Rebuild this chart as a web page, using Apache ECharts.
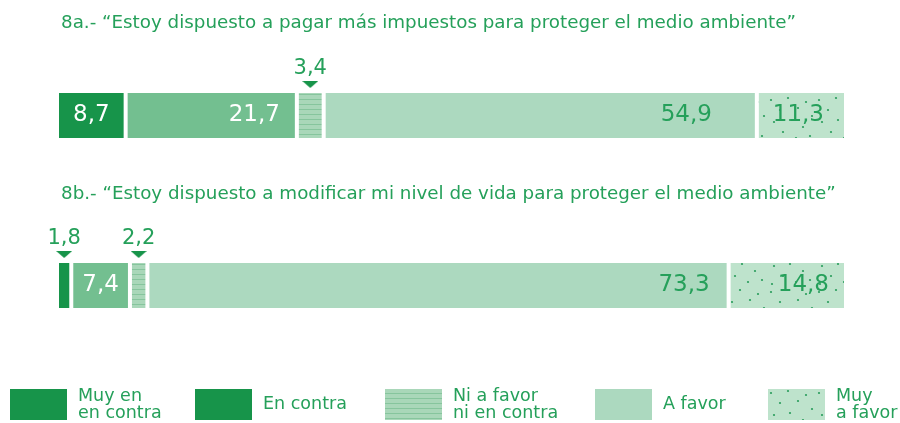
<!DOCTYPE html>
<html>
<head>
<meta charset="utf-8" />
<script src="https://cdn.jsdelivr.net/npm/echarts@6/dist/echarts.min.js"></script>
<style>
  html, body { margin: 0; padding: 0; background: #fff; }
  #chart { width: 900px; height: 423px; }
</style>
</head>
<body>
<div id="chart"></div>
<script>
const seriesNames = ['Muy en en contra', 'En contra', 'Ni a favor ni en contra', 'A favor', 'Muy a favor'];
const legendLabels = ['Muy en\nen contra', 'En contra', 'Ni a favor\nni en contra', 'A favor', 'Muy\na favor'];
const rowTitles = [
  '8a.- \u201cEstoy dispuesto a pagar más impuestos para proteger el medio ambiente\u201d',
  '8b.- \u201cEstoy dispuesto a modificar mi nivel de vida para proteger el medio ambiente\u201d'
];
const row8a = [8.7, 21.7, 3.4, 54.9, 11.3];
const row8b = [1.8, 7.4, 2.2, 73.3, 14.8];
const rows = [row8a, row8b];

const GREEN = '#25a05a';
const DARK = '#17944a';
const MID = '#73bf90';
const LIGHT = '#acd9bf';
const FONT = 'DejaVu Sans';
const WEIGHT = 'normal';

// striped tile for "Ni a favor ni en contra"
function stripes() {
  const c = document.createElement('canvas');
  c.width = 8; c.height = 5;
  const g = c.getContext('2d');
  g.fillStyle = '#a9d7b9';
  g.fillRect(0, 0, 8, 5);
  g.fillStyle = '#86c59d';
  g.fillRect(0, 4, 8, 1);
  return c;
}

// dotted tile for "Muy a favor"
function dots() {
  const c = document.createElement('canvas');
  c.width = 48; c.height = 48;
  const g = c.getContext('2d');
  g.fillStyle = '#bee3cc';
  g.fillRect(0, 0, 48, 48);
  g.fillStyle = '#2a9d5c';
  const pts = [[3, 4], [20, 2], [38, 6], [12, 14], [30, 12], [44, 20], [6, 26], [22, 24], [35, 31], [15, 36], [28, 42], [42, 40], [4, 44]];
  pts.forEach(p => { g.beginPath(); g.arc(p[0], p[1], 1.1, 0, Math.PI * 2); g.fill(); });
  return c;
}

function triangle() {
  const c = document.createElement('canvas');
  c.width = 16; c.height = 7;
  const g = c.getContext('2d');
  g.fillStyle = DARK;
  g.beginPath(); g.moveTo(0, 0); g.lineTo(16, 0); g.lineTo(8, 7); g.closePath(); g.fill();
  return c;
}

const colors = [DARK, MID, { image: stripes(), repeat: 'repeat' }, LIGHT, { image: dots(), repeat: 'repeat' }];
const legendColors = [DARK, DARK, colors[2], LIGHT, colors[4]];
const legendLefts = [10, 195, 385, 595, 768];
const triImg = triangle();

// label placement per row / segment
const labelSpecs = [
  [['inside', '#fff', 0], ['insideRight', '#fff', 17], ['top'], ['insideRight', GREEN, 45], ['insideRight', GREEN, 22]],
  [['top'], ['inside', '#fff', 0], ['top'], ['insideRight', GREEN, 19], ['insideRight', GREEN, 17]]
];

const fmt = v => String(v).replace('.', ',');

const grids = [
  { left: 57, top: 91, width: 789, height: 49 },
  { left: 57, top: 261, width: 789, height: 49 }
];

const series = [];
rows.forEach((row, r) => {
  const total = row.reduce((a, b) => a + b, 0);
  row.forEach((v, i) => {
    const s = labelSpecs[r][i];
    let label;
    if (s[0] === 'top') {
      label = {
        show: true, position: 'top', distance: 3,
        formatter: '{v|' + fmt(v) + '}\n{t|}',
        rich: {
          v: { fontFamily: FONT, fontWeight: WEIGHT, fontSize: 21, color: GREEN, align: 'center', lineHeight: 25 },
          t: { width: 16, height: 7, align: 'center', backgroundColor: { image: triImg } }
        }
      };
    } else {
      label = {
        show: true, position: s[0], distance: s[2], color: s[1],
        fontFamily: FONT, fontWeight: WEIGHT, fontSize: 23, formatter: fmt(v)
      };
    }
    series.push({
      name: seriesNames[i],
      type: 'bar',
      stack: 'row' + r,
      xAxisIndex: r,
      yAxisIndex: r,
      barWidth: '100%',
      silent: true,
      itemStyle: { color: colors[i], borderColor: '#fff', borderWidth: 2 },
      label: label,
      data: [v]
    });
  });
  grids[r].total = total;
});

const option = {
  animation: false,
  title: rowTitles.map((t, i) => ({
    text: t, left: 61, top: i === 0 ? 14 : 185, padding: 0,
    textStyle: { fontFamily: FONT, fontSize: 18.3, fontWeight: WEIGHT, color: GREEN }
  })),
  grid: grids.map(g => ({ left: g.left, top: g.top, width: g.width, height: g.height })),
  xAxis: grids.map((g, i) => ({ type: 'value', gridIndex: i, min: 0, max: g.total, show: false })),
  yAxis: grids.map((g, i) => ({ type: 'category', gridIndex: i, data: [rowTitles[i]], show: false })),
  legend: legendLabels.map((l, i) => ({
    left: legendLefts[i], top: l.indexOf('\n') >= 0 ? 387 : 389, padding: 0,
    icon: 'rect', itemWidth: 57, itemHeight: 31,
    selectedMode: false,
    data: [{ name: seriesNames[i], itemStyle: { color: legendColors[i], borderWidth: 0 } }],
    formatter: () => l,
    textStyle: { fontFamily: FONT, fontWeight: WEIGHT, fontSize: 17.5, lineHeight: 17, color: GREEN, padding: [0, 0, 0, 6] }
  })),
  series: series
};

const chart = echarts.init(document.getElementById('chart'));
chart.setOption(option);
</script>
</body>
</html>
